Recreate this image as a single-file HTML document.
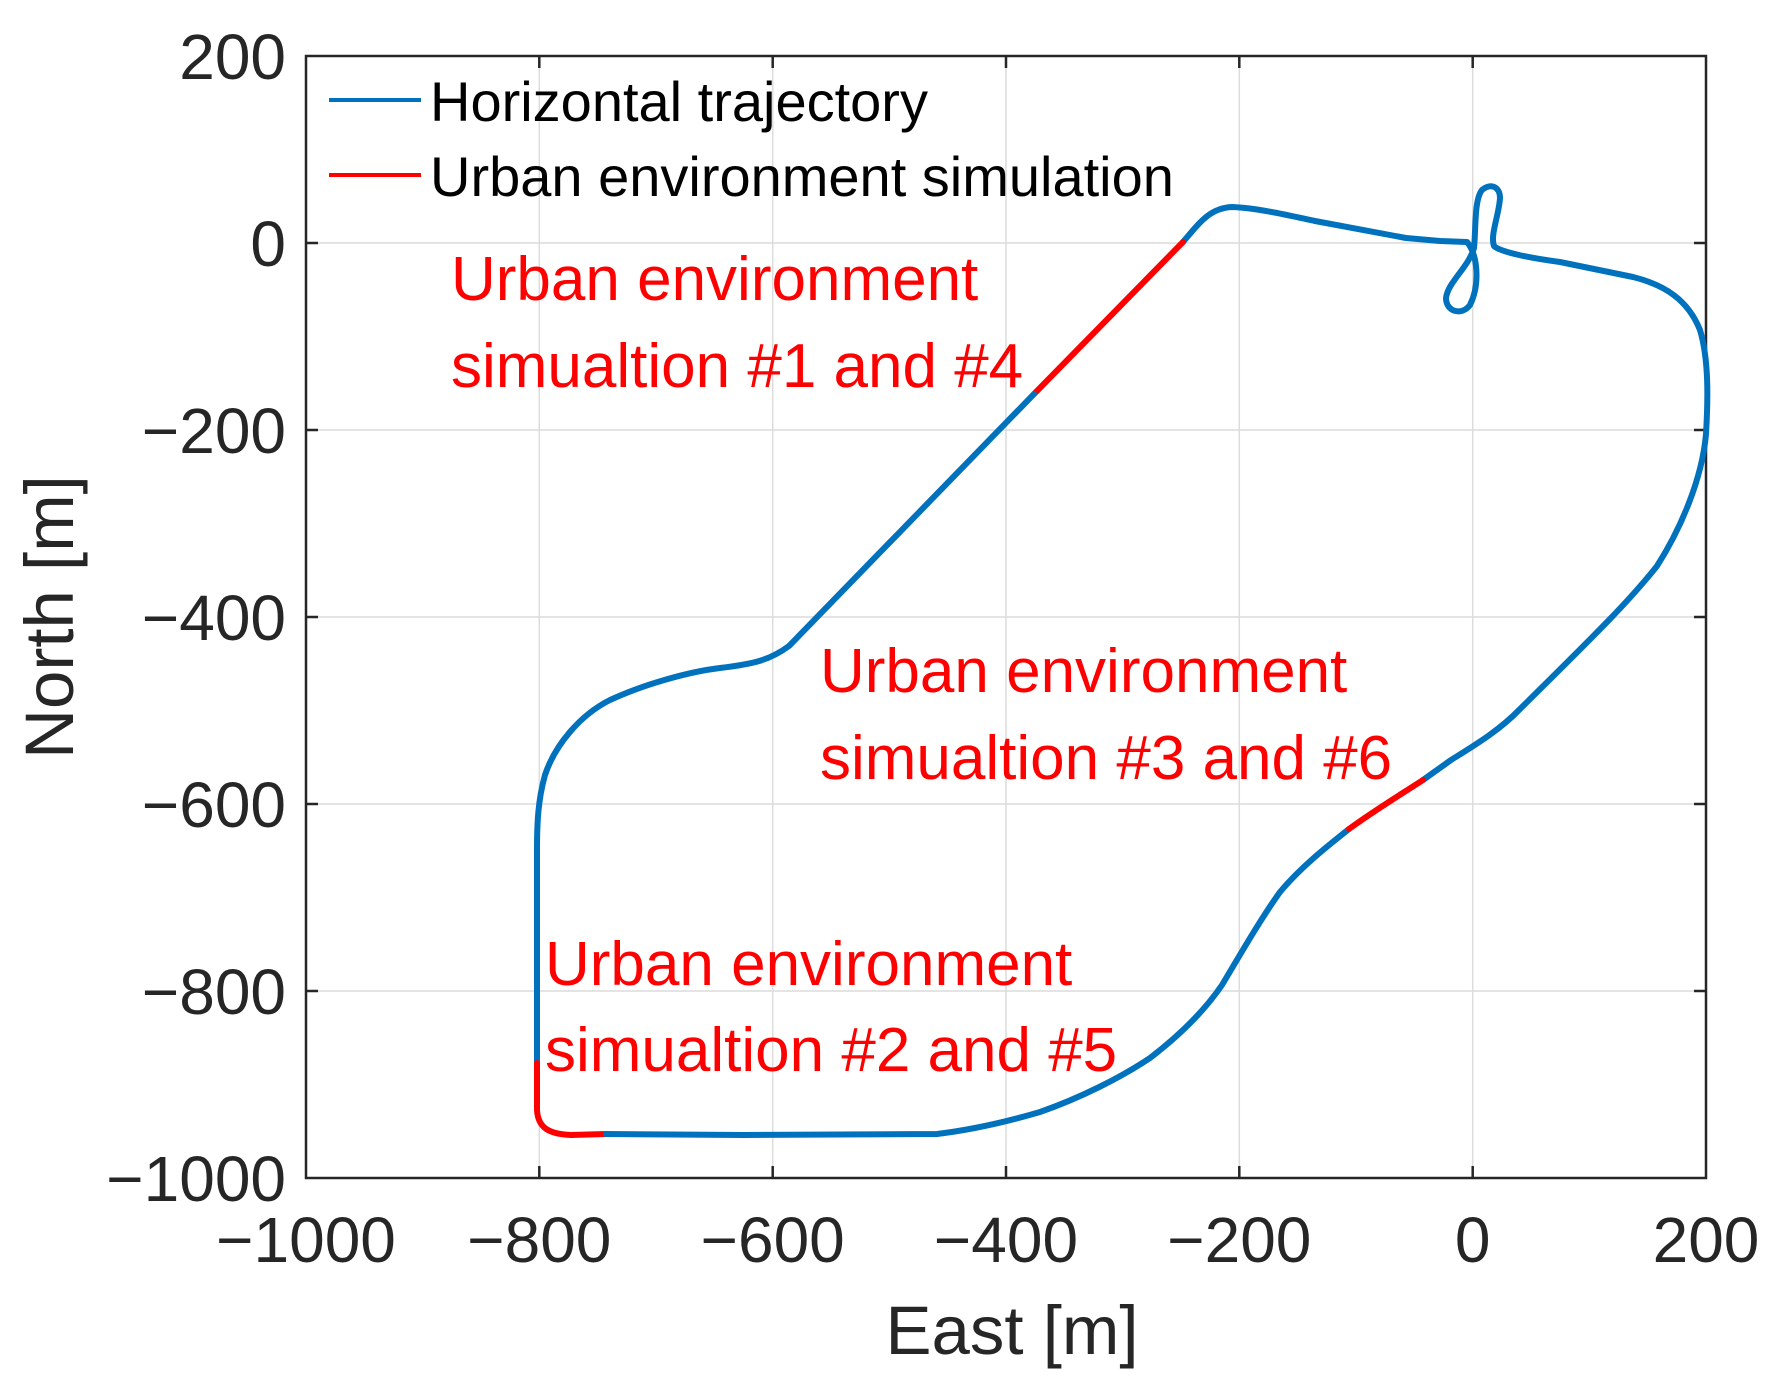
<!DOCTYPE html>
<html><head><meta charset="utf-8"><style>
html,body{margin:0;padding:0;background:#fff;}
svg{display:block;}
text{font-family:"Liberation Sans",Arial,sans-serif;}
</style></head><body>
<svg width="1783" height="1384" viewBox="0 0 1783 1384" xmlns="http://www.w3.org/2000/svg">
<rect width="1783" height="1384" fill="#fff"/>
<g stroke="#dcdcdc" stroke-width="1.5">
<line x1="539.3" y1="56" x2="539.3" y2="1178"/>
<line x1="772.7" y1="56" x2="772.7" y2="1178"/>
<line x1="1006" y1="56" x2="1006" y2="1178"/>
<line x1="1239.3" y1="56" x2="1239.3" y2="1178"/>
<line x1="1472.7" y1="56" x2="1472.7" y2="1178"/>
<line x1="306" y1="243" x2="1706" y2="243"/>
<line x1="306" y1="430" x2="1706" y2="430"/>
<line x1="306" y1="617" x2="1706" y2="617"/>
<line x1="306" y1="804" x2="1706" y2="804"/>
<line x1="306" y1="991" x2="1706" y2="991"/>
</g>
<g stroke="#262626" stroke-width="2.5">
<path d="M539.3,1178v-12M772.7,1178v-12M1006,1178v-12M1239.3,1178v-12M1472.7,1178v-12M539.3,56v12M772.7,56v12M1006,56v12M1239.3,56v12M1472.7,56v12"/>
<path d="M306,243h12M306,430h12M306,617h12M306,804h12M306,991h12M1706,243h-12M1706,430h-12M1706,617h-12M1706,804h-12M1706,991h-12"/>
<rect x="306" y="56" width="1400" height="1122" fill="none"/>
</g>
<g fill="none" stroke-width="6" stroke-linecap="round" stroke-linejoin="round">
<path stroke="#0072BD" d="M1183,242 C1200,222 1210,208 1232,207 C1260,208 1300,218 1315,221 L1406,238 L1440,241 L1467,242 C1478,255 1480,285 1470,305 C1462,316 1446,312 1446,298 C1448,282 1468,268 1474,248 C1476,230 1474,200 1482,190 C1490,183 1500,186 1500,198 C1499,215 1490,235 1494,246 C1500,252 1530,258 1560,262 L1633,277 C1665,285 1688,300 1700,330 C1709,360 1708,400 1706,434 C1702,480 1680,530 1657,566 C1630,600 1600,630 1520,709 C1500,730 1475,745 1451,760 L1423,780"/>
<path stroke="#FF0000" d="M1183,242 L1034,394"/>
<path stroke="#0072BD" d="M1034,394 L789,646 C770,660 754,664 720,668 C686,672 640,686 610,700 C580,715 555,745 545,775 C538,800 537,823 537,850 L537,1063"/>
<path stroke="#FF0000" d="M537,1063 L537,1110 C538,1128 549,1134 571,1135 L606,1134"/>
<path stroke="#0072BD" d="M606,1134 L743,1135 L937,1134 C970,1130 1006,1122 1040,1112 C1080,1098 1120,1078 1150,1058 C1180,1035 1205,1010 1222,985 C1240,955 1260,920 1280,892 C1300,868 1325,848 1349,829"/>
<path stroke="#FF0000" d="M1349,829 C1375,810 1400,795 1423,780"/>
</g>
<g fill="#262626" font-size="64">
<g text-anchor="middle">
<text x="306" y="1262">−1000</text>
<text x="539.3" y="1262">−800</text>
<text x="772.7" y="1262">−600</text>
<text x="1006" y="1262">−400</text>
<text x="1239.3" y="1262">−200</text>
<text x="1472.7" y="1262">0</text>
<text x="1706" y="1262">200</text>
</g>
<g text-anchor="end">
<text x="286" y="79">200</text>
<text x="286" y="266">0</text>
<text x="286" y="453">−200</text>
<text x="286" y="640">−400</text>
<text x="286" y="827">−600</text>
<text x="286" y="1014">−800</text>
<text x="286" y="1201">−1000</text>
</g>
<text x="1012" y="1354" font-size="69" text-anchor="middle">East [m]</text>
<text transform="translate(73,617) rotate(-90)" font-size="69" text-anchor="middle">North [m]</text>
</g>
<line x1="329" y1="100" x2="421" y2="100" stroke="#0072BD" stroke-width="4"/>
<line x1="329" y1="175" x2="421" y2="175" stroke="#FF0000" stroke-width="4"/>
<g fill="#000" font-size="56">
<text x="430" y="121">Horizontal trajectory</text>
<text x="430" y="196">Urban environment simulation</text>
</g>
<g fill="#FF0000" font-size="62">
<text x="451" y="300">Urban environment</text>
<text x="451" y="387">simualtion #1 and #4</text>
<text x="820" y="692">Urban environment</text>
<text x="820" y="779">simualtion #3 and #6</text>
<text x="545" y="985">Urban environment</text>
<text x="545" y="1071">simualtion #2 and #5</text>
</g>
</svg>
</body></html>
